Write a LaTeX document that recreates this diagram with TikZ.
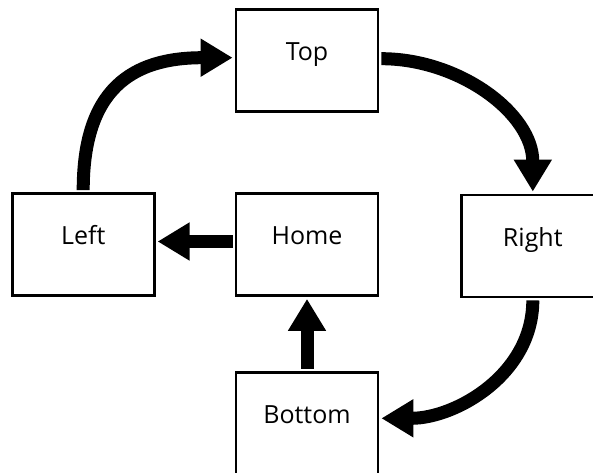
\documentclass[tikz,border=0pt]{standalone}
\usepackage{fontspec}
\setmainfont{Open Sans}
\usetikzlibrary{arrows.meta,positioning}
\tikzstyle{room}=[rectangle,draw,line width=2.8pt,minimum width=142pt,minimum height=102pt,text height=6pt,text depth=6pt,font=\fontsize{25}{30}\selectfont]
\tikzstyle{move}=[line width=13pt,-{Triangle[width=36pt,length=32pt]},shorten <=2pt,shorten >=2pt]

\begin{document}
\begin{tikzpicture}[x=1pt,y=1pt,node distance=79pt]
\useasboundingbox (0,0) rectangle (593,472);
\node[room] (Home) at (307,227.5) {Home};
\node[room, above=of Home] (Top) {Top};
\node[room, left=of Home] (Left) {Left};
\node[room, right=81pt of Home, yshift=-1.5pt] (Right) {Right};
\node[room, below=74pt of Home] (Bottom) {Bottom};
\draw[move] (Left.north) to[out=90,in=180,looseness=1.3] ([yshift=3pt]Top.west);
\draw[move] ([yshift=2pt]Top.east) to[out=0,in=90] (Right.north);
\draw[move] (Right.south) to[out=-90,in=0] ([yshift=5pt]Bottom.east);
\draw[move] ([yshift=3pt]Home.west) -- ([yshift=3pt]Left.east);
\draw[move] (Bottom.north) -- (Home.south);
\end{tikzpicture}
\end{document}
